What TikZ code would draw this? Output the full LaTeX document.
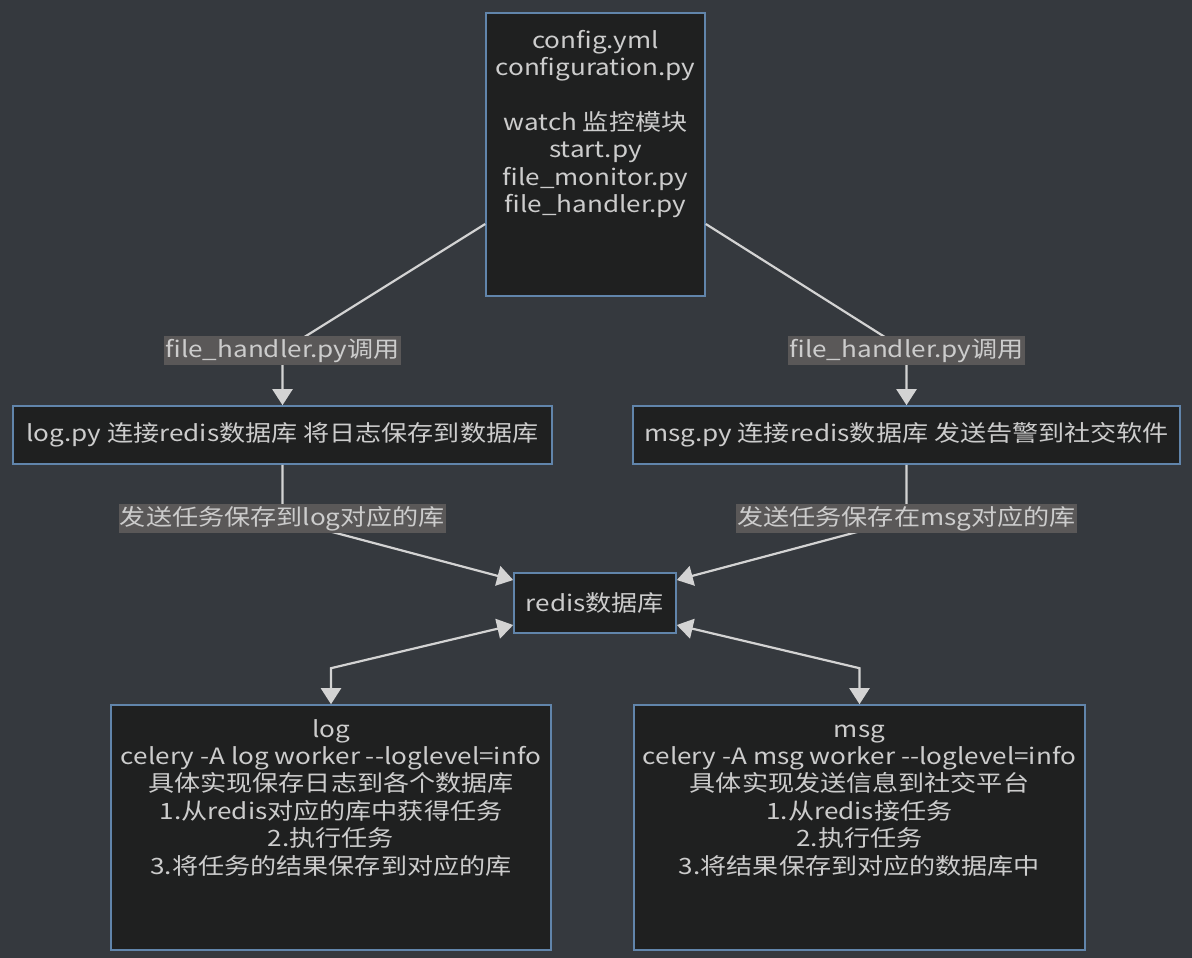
\documentclass[tikz,border=0pt]{standalone}
\usepackage{fontspec}
\usepackage{tikz}
\usetikzlibrary{arrows.meta,positioning,calc}
\newfontfamily\cjk{Noto Sans CJK SC}[FakeStretch=1.16]
\definecolor{bgc}{HTML}{35393E}
\definecolor{boxc}{HTML}{1F2020}
\definecolor{edgec}{HTML}{6185AB}
\definecolor{txtc}{HTML}{CCCCCC}
\definecolor{linec}{HTML}{D3D3D3}
\definecolor{labc}{HTML}{5A5858}
\tikzset{
  box/.style={draw=edgec,fill=boxc,line width=1.6pt,text=txtc,align=center,
              inner sep=0pt},                     % 模块框：深底 + 蓝灰边
  tall/.style={box,inner ysep=14pt},              % 多行框：文字靠上
  lab/.style={fill=labc,text=txtc,inner xsep=1pt,inner ysep=2.5pt,
              text height=19pt,text depth=5pt},   % 连线标注
  ln/.style={draw=linec,line width=2.2pt},
  ar/.style={ln,-{Triangle[length=16pt,width=20pt]}},
  bi/.style={ln,{Triangle[length=16pt,width=20pt]}-{Triangle[length=16pt,width=20pt]}}
}
\newcommand{\dfont}{\cjk\fontsize{22.5pt}{27.4pt}\selectfont}

\begin{document}
\begin{tikzpicture}[x=1pt,y=-1pt,font=\dfont]
  \fill[bgc] (0,0) rectangle (1192,958);
  \useasboundingbox (0,0) rectangle (1192,958);

  \node[tall,minimum width=219pt,text height=182.4pt,text depth=66.6pt,inner ysep=17pt] (cfg) at (595.5,154.5)
    {config.yml\\configuration.py\\[27.4pt]watch 监控模块\\start.py\\file\_monitor.py\\file\_handler.py};

  \node[box,minimum width=539pt,minimum height=58pt] (logpy) at (282.5,435)
    {log.py 连接redis数据库 将日志保存到数据库};
  \node[box,minimum width=547pt,minimum height=58pt] (msgpy) at (906.5,435)
    {msg.py 连接redis数据库 发送告警到社交软件};

  \node[box,minimum width=162pt,minimum height=60pt] (redis) at (595,603) {redis数据库};

  \node[tall,minimum width=440pt,text height=155pt,text depth=62pt] (logw) at (331,827.5)
    {log\\celery -A log worker -{}-loglevel=info\\具体实现保存日志到各个数据库\\1.从redis对应的库中获得任务\\2.执行任务\\3.将任务的结果保存到对应的库};
  \node[tall,minimum width=451pt,text height=155pt,text depth=62pt] (msgw) at (859.5,827.5)
    {msg\\celery -A msg worker -{}-loglevel=info\\具体实现发送信息到社交平台\\1.从redis接任务\\2.执行任务\\3.将结果保存到对应的数据库中};

  \coordinate (m1) at ([yshift=54.5pt]logpy.north);
  \coordinate (m2) at ([yshift=54.5pt]msgpy.north);
  \coordinate (m3) at ([yshift=-54pt]logpy.south);
  \coordinate (m4) at ([yshift=-54pt]msgpy.south);
  \coordinate (k1) at ([yshift=36pt]logw.north);
  \coordinate (k2) at ([yshift=36pt]msgw.north);

  \draw[ar] ([yshift=-69.5pt]cfg.west) -- (m1) -- (logpy.north);
  \draw[ar] ([yshift=-69.5pt]cfg.east) -- (m2) -- (msgpy.north);
  \draw[ar] (logpy.south) -- (m3) -- ([yshift=23pt]redis.west);
  \draw[ar] (msgpy.south) -- (m4) -- ([yshift=23pt]redis.east);
  \draw[bi] ([yshift=-22pt]redis.west) -- (k1) -- (logw.north);
  \draw[bi] ([yshift=-22pt]redis.east) -- (k2) -- (msgw.north);

  \node[lab] (lab1) at (m1) {file\_handler.py调用};
  \node[lab] (lab2) at (m2) {file\_handler.py调用};
  \node[lab] (lab3) at (m3) {发送任务保存到log对应的库};
  \node[lab] (lab4) at (m4) {发送任务保存在msg对应的库};
\end{tikzpicture}
\end{document}
